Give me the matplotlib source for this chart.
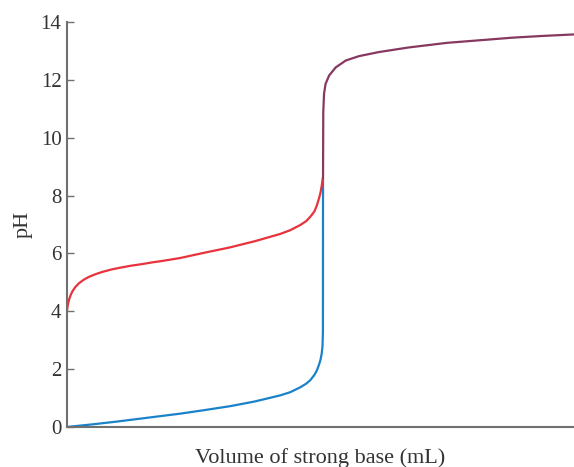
import matplotlib
matplotlib.use("Agg")
import matplotlib.pyplot as plt

# Weak acid titration curve (red) up to equivalence
weak_x = [0, 0.15, 0.39, 0.7, 1.04, 1.6, 2.37, 3.3, 4.34, 5.6, 6.96, 8.9, 10.9, 12.8,
          14.8, 16.8, 18.8, 22.3, 27, 32.2, 37, 42, 44, 46, 47.2, 48, 48.8, 49.3,
          49.7, 50.0, 50.25, 50.45]
weak_ph = [4.02, 4.2, 4.39, 4.55, 4.68, 4.83, 4.97, 5.09, 5.19, 5.28, 5.36, 5.45, 5.52,
           5.58, 5.63, 5.69, 5.74, 5.84, 6.02, 6.21, 6.42, 6.67, 6.8, 6.98, 7.12, 7.27,
           7.45, 7.67, 7.9, 8.1, 8.35, 8.6]

# Strong acid titration curve (blue) up to equivalence
strong_x = [0, 5, 10, 15, 22.3, 27, 32.2, 37, 42, 44, 46, 47.2, 48, 48.8, 49.3, 49.7,
            50.0, 50.25, 50.4, 50.48, 50.5]
strong_ph = [0.0, 0.09, 0.19, 0.3, 0.46, 0.58, 0.72, 0.88, 1.09, 1.2, 1.37, 1.5, 1.62,
             1.8, 1.96, 2.15, 2.32, 2.55, 2.8, 3.3, 8.6]

# Shared part beyond equivalence point
shared_x = [50.5, 50.55, 50.7, 51.0, 51.7, 53.0, 55.0, 57.6, 61.5, 67.4, 75, 81.5, 88,
            94, 100]
shared_ph = [8.6, 10.9, 11.52, 11.86, 12.15, 12.43, 12.67, 12.82, 12.96, 13.12, 13.28,
             13.37, 13.46, 13.52, 13.57]

y_ticks = [0, 2, 4, 6, 8, 10, 12, 14]

fig = plt.figure(figsize=(5.74, 4.67), dpi=100)
ax = fig.add_axes([0.1167, 0.0857, 0.8833, 0.8672])

kw = dict(lw=1.6, solid_capstyle="round", solid_joinstyle="round")
ax.plot(strong_x, strong_ph, color="#1a82c8", **kw)
ax.plot(weak_x, weak_ph, color="#e8323c", **kw)
ax.plot(shared_x, shared_ph, color="#86385f", **kw)

ax.set_xlim(0, 100)
ax.set_ylim(0, 14)
ax.set_yticks(y_ticks)
ax.set_xticks([])
for s in ["top", "right"]:
    ax.spines[s].set_visible(False)
for s in ["left", "bottom"]:
    ax.spines[s].set_color("#707070")
    ax.spines[s].set_linewidth(1.5)
ax.spines["left"].set_zorder(5)
ax.tick_params(axis="y", direction="in", length=5, width=1.0, color="#707070",
               labelsize=15, labelcolor="#333333", pad=4)
for lab in ax.get_yticklabels():
    lab.set_fontfamily("Liberation Serif")

ax.set_ylabel("pH", fontsize=16, family="Liberation Serif", color="#333333", labelpad=6)
ax.set_xlabel("Volume of strong base (mL)", fontsize=16, family="Liberation Serif",
              color="#333333", labelpad=15)

fig.savefig("out.png", dpi=100)
